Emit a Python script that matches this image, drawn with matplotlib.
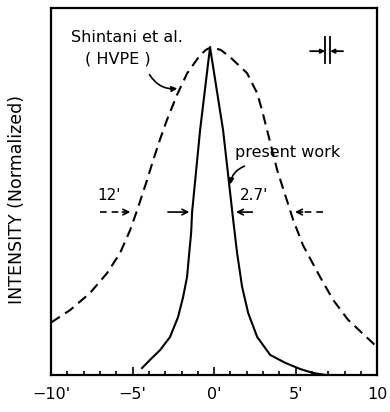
import matplotlib
matplotlib.use("Agg")
import matplotlib.pyplot as plt

# rocking curve data (x in arc-min, y normalized to peak)
hvpe_x = [-10.0, -8.83, -7.61, -6.56, -5.77, -5.15, -4.72, -4.11, -3.74, -3.31,
          -2.88, -2.27, -1.66, -0.86, -0.5, -0.2, 0.4, 0.98, 2.02, 2.64, 2.94,
          3.25, 3.87, 4.85, 5.46, 5.71, 6.50, 7.30, 8.22, 10.0]
hvpe_y = [0.160, 0.198, 0.250, 0.311, 0.372, 0.442, 0.503, 0.595, 0.655, 0.720,
          0.780, 0.855, 0.920, 0.976, 0.992, 1.0, 0.992, 0.970, 0.921, 0.860,
          0.808, 0.747, 0.625, 0.473, 0.395, 0.372, 0.299, 0.229, 0.168, 0.085]

work_x = [-4.42, -3.93, -3.31, -2.70, -2.21, -1.90, -1.66, -1.53, -1.41, -1.35,
          -0.86, -0.25, 0.55, 1.17, 1.41, 1.72, 2.09, 2.64, 3.44, 4.36, 5.28,
          6.07, 6.81]
work_y = [0.021, 0.046, 0.076, 0.116, 0.177, 0.238, 0.299, 0.370, 0.433, 0.497,
          0.747, 1.0, 0.747, 0.473, 0.372, 0.268, 0.189, 0.116, 0.061, 0.037,
          0.018, 0.006, 0.0]

major_ticks = [-10, -5, 0, 5, 10]
major_labels = ["\u221210'", "\u22125'", "0'", "5'", "10"]
minor_ticks = list(range(-10, 11))

half_level = 0.497

fig = plt.figure(figsize=(3.9, 4.12), dpi=100)
ax = fig.add_axes([0.131, 0.09, 0.836, 0.89])

ax.plot(hvpe_x, hvpe_y, color="black", lw=1.5, linestyle=(0, (5, 3)))
ax.plot(work_x, work_y, color="black", lw=1.5)

ax.set_xlim(-10, 10)
ax.set_ylim(0, 1.119)
ax.set_xticks(major_ticks)
ax.set_xticklabels(major_labels, fontsize=11.5)
ax.set_xticks(minor_ticks, minor=True)
ax.tick_params(axis="x", which="major", direction="in", length=6, width=1.2, pad=9)
ax.tick_params(axis="x", which="minor", direction="in", length=3, width=1.2)
ax.set_yticks([])
for s in ax.spines.values():
    s.set_linewidth(1.6)

fig.text(0.044, 0.515, "INTENSITY (Normalized)", rotation=90, ha="center",
         va="center", fontsize=12.5)

# labels
ax.text(-8.8, 1.03, "Shintani et al.", fontsize=11.5, va="center", ha="left")
ax.text(-7.9, 0.963, "( HVPE )", fontsize=11.5, va="center", ha="left")
ax.annotate("", xy=(-2.09, 0.875), xytext=(-4.05, 0.924),
            arrowprops=dict(arrowstyle="-|>", lw=1.2, color="black",
                            mutation_scale=8,
                            connectionstyle="arc3,rad=0.35"))

ax.text(1.29, 0.68, "present work", fontsize=11.5, va="center", ha="left")
ax.annotate("", xy=(0.98, 0.573), xytext=(2.02, 0.640),
            arrowprops=dict(arrowstyle="-|>", lw=1.2, color="black",
                            mutation_scale=8,
                            connectionstyle="arc3,rad=0.35"))

ax.text(-7.18, 0.549, "12'", fontsize=11, va="center", ha="left")
ax.text(1.6, 0.549, "2.7'", fontsize=11, va="center", ha="left")

# FWHM arrows
ax.plot([-7.0, -5.6], [half_level, half_level], color="black", lw=1.2,
        linestyle=(0, (4, 3)))
ax.annotate("", xy=(-4.97, half_level), xytext=(-5.8, half_level),
            arrowprops=dict(arrowstyle="->", lw=1.2, color="black"))
ax.annotate("", xy=(-1.35, half_level), xytext=(-3.0, half_level),
            arrowprops=dict(arrowstyle="->", lw=1.2, color="black"))
ax.annotate("", xy=(1.17, half_level), xytext=(2.52, half_level),
            arrowprops=dict(arrowstyle="->", lw=1.2, color="black"))
ax.plot([6.69, 5.5], [half_level, half_level], color="black", lw=1.2,
        linestyle=(0, (4, 3)))
ax.annotate("", xy=(4.79, half_level), xytext=(5.6, half_level),
            arrowprops=dict(arrowstyle="->", lw=1.2, color="black"))

# slit symbol, upper right
ax.plot([6.81, 6.81], [0.951, 1.030], color="black", lw=1.3)
ax.plot([7.12, 7.12], [0.951, 1.030], color="black", lw=1.3)
ax.annotate("", xy=(6.81, 0.988), xytext=(5.89, 0.988),
            arrowprops=dict(arrowstyle="-|>", lw=1.3, color="black",
                            mutation_scale=6, shrinkA=0, shrinkB=0))
ax.annotate("", xy=(7.12, 0.988), xytext=(7.91, 0.988),
            arrowprops=dict(arrowstyle="-|>", lw=1.3, color="black",
                            mutation_scale=6, shrinkA=0, shrinkB=0))

fig.savefig("out.png", dpi=100)
